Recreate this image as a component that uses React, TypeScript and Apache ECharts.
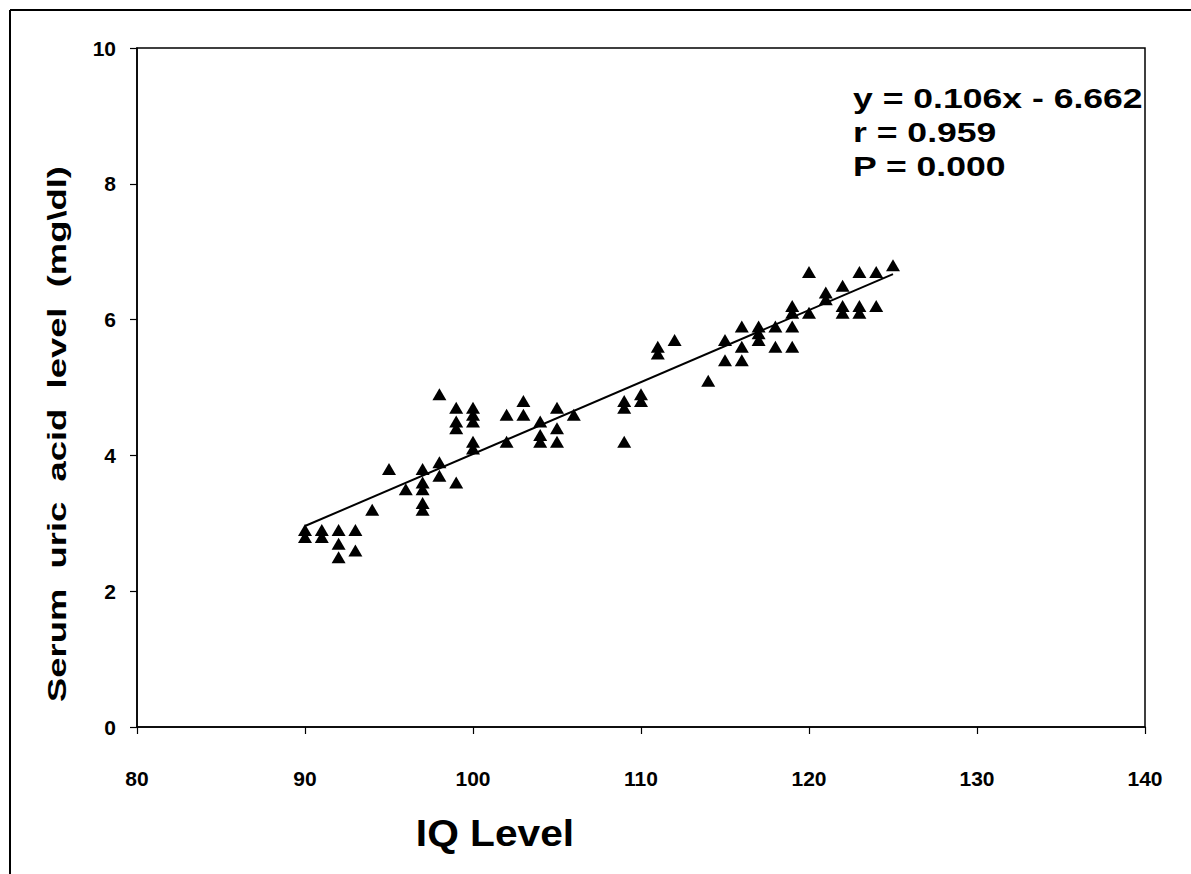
import React, { useEffect, useRef } from "react";
import * as echarts from "echarts";

// IQ level (x) and serum uric acid level (y, mg/dl)
const iqValues: number[] = [
  90, 90, 91, 91, 92, 92, 92, 93, 93, 94, 95, 96,
  97, 97, 97, 97, 97, 98, 98, 98, 99, 99, 99, 99,
  100, 100, 100, 100, 100, 102, 102, 103, 103, 104, 104, 104,
  105, 105, 105, 106, 109, 109, 109, 110, 110, 111, 111, 112,
  114, 115, 115, 116, 116, 116, 117, 117, 117, 118, 118,
  119, 119, 119, 119, 120, 120, 121, 121, 122, 122, 122,
  123, 123, 123, 124, 124, 125,
];
const uricValues: number[] = [
  2.9, 2.8, 2.9, 2.8, 2.9, 2.7, 2.5, 2.9, 2.6, 3.2, 3.8, 3.5,
  3.8, 3.6, 3.5, 3.3, 3.2, 4.9, 3.9, 3.7, 4.7, 4.5, 4.4, 3.6,
  4.7, 4.6, 4.5, 4.2, 4.1, 4.6, 4.2, 4.8, 4.6, 4.5, 4.3, 4.2,
  4.7, 4.4, 4.2, 4.6, 4.8, 4.7, 4.2, 4.9, 4.8, 5.6, 5.5, 5.7,
  5.1, 5.7, 5.4, 5.9, 5.6, 5.4, 5.9, 5.8, 5.7, 5.9, 5.6,
  6.2, 6.1, 5.9, 5.6, 6.7, 6.1, 6.4, 6.3, 6.5, 6.2, 6.1,
  6.7, 6.2, 6.1, 6.7, 6.2, 6.8,
];
// Fitted line endpoints as drawn
const trendX: number[] = [90, 125];
const trendY: number[] = [2.96, 6.67];

const xTicks = { min: 80, max: 140, interval: 10 };
const yTicks = { min: 0, max: 10, interval: 2 };

const statLines: string[] = ["y = 0.106x - 6.662", "r = 0.959", "P = 0.000"];
const xTitle = "IQ Level";
const yTitle = "Serum  uric  acid  level  (mg\\dl)";

const FONT = "Arial, 'Liberation Sans', sans-serif";

export default function App() {
  const ref = useRef<HTMLDivElement>(null);
  useEffect(() => {
    if (!ref.current) return;
    const chart = echarts.init(ref.current, null, { renderer: "svg" });
    const points = iqValues.map((x, i) => [x, uricValues[i]]);
    const trend = trendX.map((x, i) => [x, trendY[i]]);
    const axisCommon = {
      axisLine: { show: true, lineStyle: { color: "#000", width: 1.5 } },
      axisTick: { show: true, inside: false, length: 7, lineStyle: { color: "#000", width: 1.2 } },
      splitLine: { show: false },
    };
    chart.setOption({
      animation: false,
      backgroundColor: "#fff",
      grid: {
        left: 137,
        top: 48,
        width: 1008,
        height: 679,
        show: true,
        borderColor: "#000",
        borderWidth: 1.5,
        backgroundColor: "transparent",
      },
      xAxis: {
        type: "value",
        ...xTicks,
        ...axisCommon,
        axisLabel: {
          color: "#000",
          fontFamily: FONT,
          fontWeight: "bold",
          fontSize: 21,
          margin: 41,
        },
      },
      yAxis: {
        type: "value",
        ...yTicks,
        ...axisCommon,
        axisLabel: {
          color: "#000",
          fontFamily: FONT,
          fontWeight: "bold",
          fontSize: 21,
          margin: 21,
        },
      },
      series: [
        {
          type: "scatter",
          data: points,
          symbol: "triangle",
          symbolSize: [14, 12],
          itemStyle: { color: "#000", opacity: 1 },
          z: 3,
        },
        {
          type: "line",
          data: trend,
          showSymbol: false,
          symbol: "none",
          lineStyle: { color: "#000", width: 2 },
          z: 2,
        },
      ],
      graphic: [
        {
          type: "line",
          shape: { x1: 10, y1: 10, x2: 1191, y2: 10 },
          style: { stroke: "#000", lineWidth: 2 },
        },
        {
          type: "line",
          shape: { x1: 10, y1: 10, x2: 10, y2: 874 },
          style: { stroke: "#000", lineWidth: 2 },
        },
        ...statLines.map((t, i) => ({
          type: "text",
          x: 853,
          y: 98 + i * 34,
          scaleX: 1.27,
          style: {
            text: t,
            fill: "#000",
            font: `bold 28px ${FONT}`,
            align: "left",
            verticalAlign: "middle",
          },
        })),
        {
          type: "text",
          x: 495,
          y: 833,
          scaleX: 1.1,
          style: {
            text: xTitle,
            fill: "#000",
            font: `bold 37px ${FONT}`,
            align: "center",
            verticalAlign: "middle",
          },
        },
        {
          type: "text",
          x: 57,
          y: 434,
          rotation: Math.PI / 2,
          scaleX: 1.4,
          style: {
            text: yTitle,
            fill: "#000",
            font: `bold 26px ${FONT}`,
            align: "center",
            verticalAlign: "middle",
          },
        },
      ],
    });
    return () => chart.dispose();
  }, []);
  return (
    <div
      ref={ref}
      style={{ position: "absolute", left: 0, top: 0, width: 1191, height: 874 }}
    />
  );
}
